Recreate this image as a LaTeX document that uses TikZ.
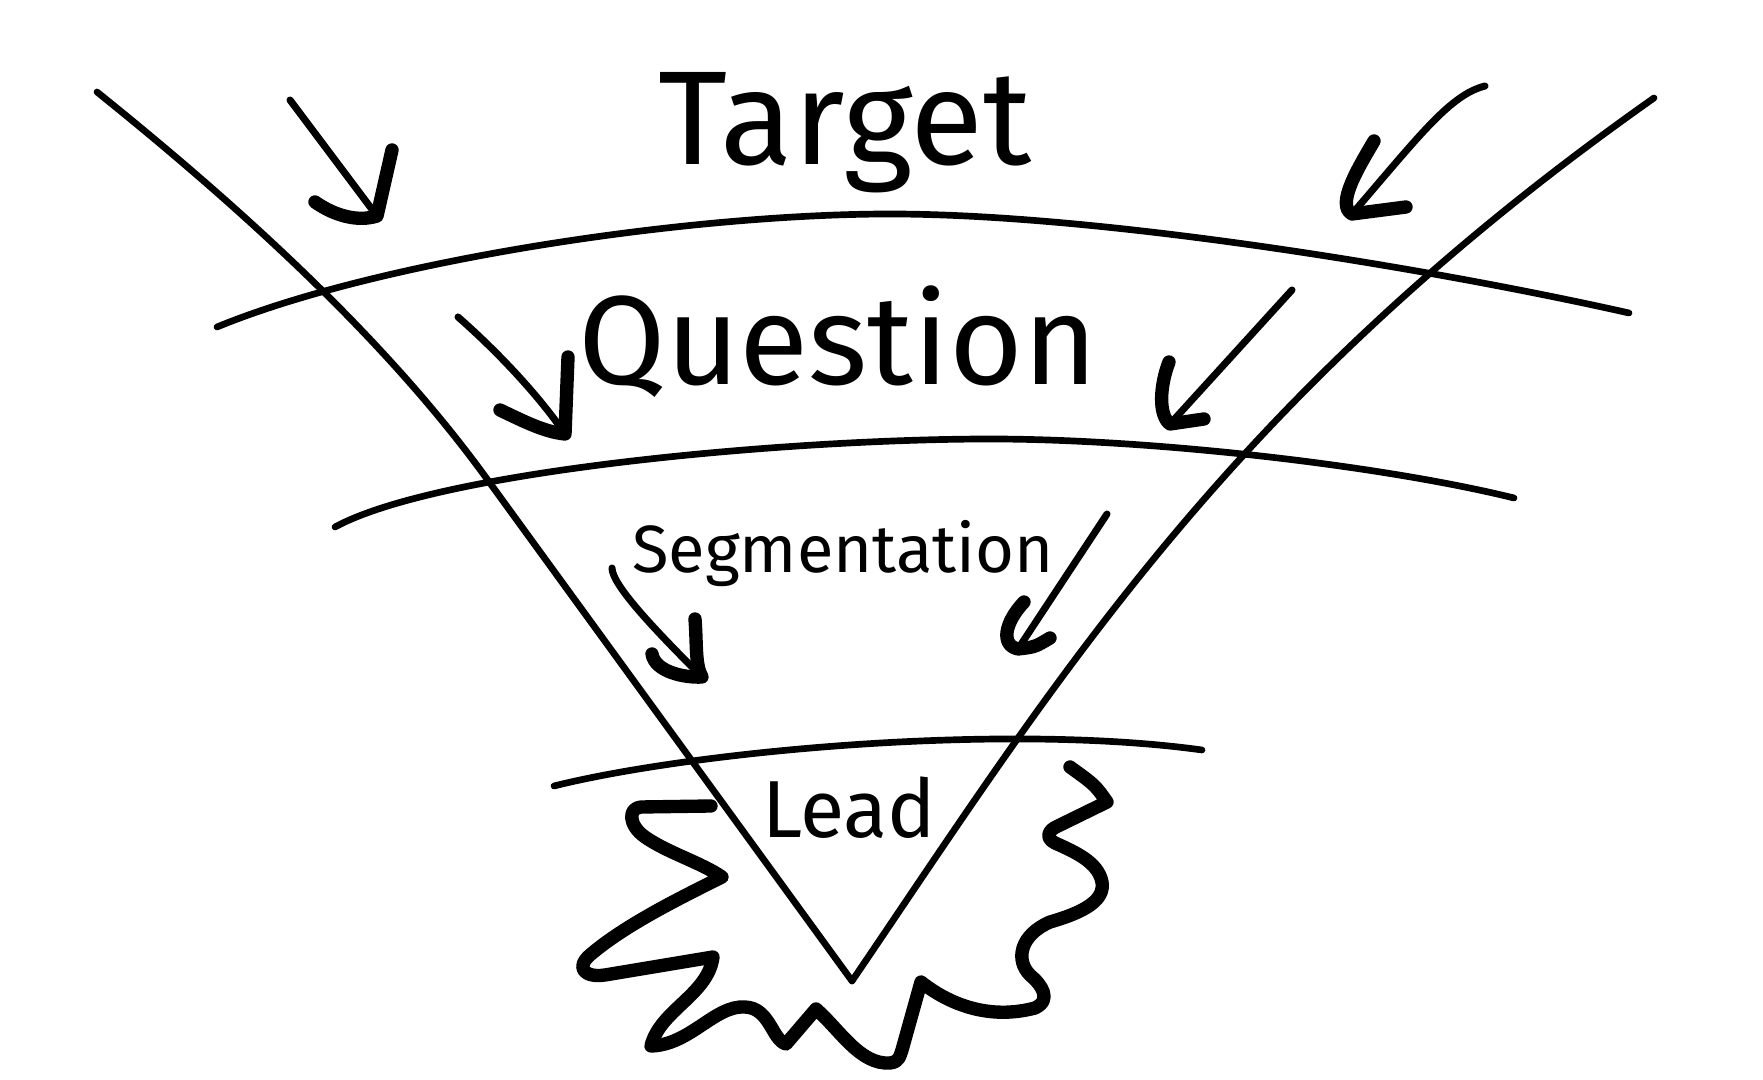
\documentclass[tikz,border=0pt]{standalone}
\usepackage{fontspec}
\setmainfont{Fira Sans}
\usepackage{tikz}

\tikzset{
  funnel/.style={line width=1.9pt,line cap=round},
  burst/.style={line width=3.8pt,line cap=round,line join=round},
  shaft/.style={line width=2pt,line cap=round},
  barb/.style={line width=3.8pt,line cap=round,line join=round},
}

\begin{document}
\begin{tikzpicture}[x=0.01cm,y=-0.01cm]
  \useasboundingbox (0,0) rectangle (1763,1080);

  \begin{scope}[every node/.style={anchor=base,inner sep=0pt}]
    \node[font=\fontsize{38}{40}\selectfont] (target) at (845,165) {Target};
    \node[font=\fontsize{36}{40}\selectfont] (question) at (838,385) {Question};
    \node[font=\fontsize{19}{22}\selectfont] (segment) at (843,573) {Segmentation};
    \node[font=\fontsize{23}{26}\selectfont] (lead) at (849,838) {Lead};
  \end{scope}

  \begin{scope}
    \draw[funnel] (97,92) .. controls (250,215) and (390,345) .. (487,479) -- (852,981);
    \draw[funnel] (1654,98) .. controls (1228,398) and (1056,681) .. (852,981);
    \draw[funnel] (217,327) .. controls (380,260) and (690,214) .. (890,214)
      .. controls (1100,214) and (1429,268) .. (1629,313);
    \draw[funnel] (335,527) .. controls (440,470) and (790,439) .. (990,439)
      .. controls (1150,439) and (1380,465) .. (1514,498);
    \draw[funnel] (554,786) .. controls (690,752) and (1000,722) .. (1202,750);
  \end{scope}

  \begin{scope}
    \coordinate (a1s) at (290,100);
    \coordinate (a1t) at (377,216);
    \coordinate (a1l) at (315,202);
    \coordinate (a1r) at (392,150);
    \coordinate (a2s) at (1485,86);
    \coordinate (a2t) at (1352,214);
    \coordinate (a2l) at (1374,141);
    \coordinate (a2r) at (1406,207);
    \coordinate (a3s) at (458,317);
    \coordinate (a3t) at (565,434);
    \coordinate (a3l) at (568,357);
    \coordinate (a3r) at (500,410);
    \coordinate (a4s) at (1292,290);
    \coordinate (a4t) at (1170,424);
    \coordinate (a4l) at (1169,362);
    \coordinate (a4r) at (1204,419);
    \coordinate (a5s) at (612,568);
    \coordinate (a5t) at (702,677);
    \coordinate (a5l) at (695,619);
    \coordinate (a5r) at (652,654);
    \coordinate (a6s) at (1107,514);
    \coordinate (a6t) at (1018,649);
    \coordinate (a6l) at (1024,602);
    \coordinate (a6r) at (1050,638);
  \end{scope}

  \begin{scope}
    \draw[shaft] (a1s) -- (a1t);
    \draw[barb] (a1l) .. controls (335,216) and (358,222) .. (a1t) -- (a1r);
    \draw[shaft] (a2s) .. controls (1450,95) and (1420,135) .. (a2t);
    \draw[barb] (a2l) .. controls (1360,165) and (1335,205) .. (a2t) -- (a2r);
    \draw[shaft] (a3s) .. controls (490,345) and (535,390) .. (a3t);
    \draw[barb] (a3l) -- (a3t) .. controls (545,432) and (525,422) .. (a3r);
    \draw[shaft] (a4s) -- (a4t);
    \draw[barb] (a4l) .. controls (1160,385) and (1158,415) .. (a4t) -- (a4r);
    \draw[shaft] (a5s) .. controls (612,585) and (655,630) .. (a5t);
    \draw[barb] (a5l) .. controls (697,645) and (695,665) .. (a5t) .. controls (685,678) and (655,672) .. (a5r);
    \draw[shaft] (a6s) -- (a6t);
    \draw[barb] (a6l) .. controls (1005,622) and (1000,645) .. (a6t) .. controls (1035,647) .. (a6r);
  \end{scope}

  \draw[burst] (711,806) -- (641,807) .. controls (628,808) and (628,825) .. (645,837)
    .. controls (668,853) and (700,862) .. (722,877)
    .. controls (680,898) and (625,925) .. (590,955)
    .. controls (575,968) and (585,978) .. (605,975) -- (713,957)
    .. controls (708,995) and (660,1010) .. (651,1046)
    .. controls (690,1045) and (715,1005) .. (745,1007)
    .. controls (770,1008) and (772,1040) .. (786,1044) -- (816,1009)
    .. controls (840,1030) and (860,1065) .. (890,1063)
    .. controls (900,1062) and (900,1055) .. (902,1050) -- (921,982)
    .. controls (950,1005) and (990,1020) .. (1035,1008)
    .. controls (1052,1000) and (1042,985) .. (1030,975)
    .. controls (1015,960) and (1020,935) .. (1050,922)
    .. controls (1085,912) and (1105,900) .. (1102,882)
    .. controls (1098,862) and (1075,852) .. (1055,843)
    .. controls (1045,838) and (1048,830) .. (1058,826) -- (1107,802)
    .. controls (1095,785) .. (1070,767);
\end{tikzpicture}
\end{document}
